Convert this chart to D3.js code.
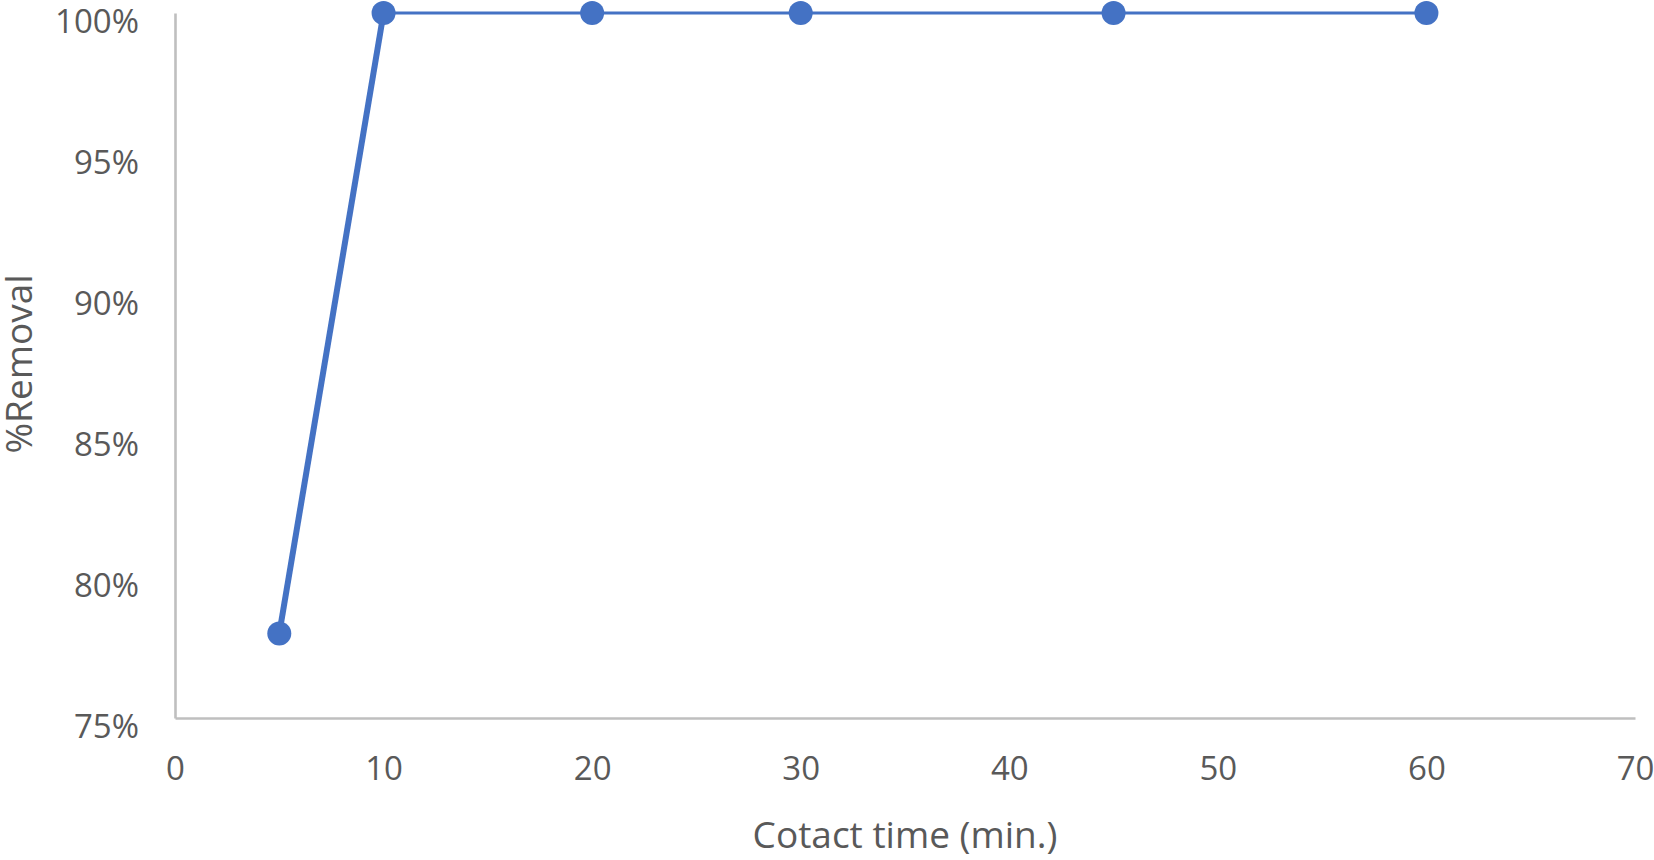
<!DOCTYPE html>
<html><head><meta charset="utf-8">
<script src="https://cdn.jsdelivr.net/npm/d3@7"></script>
<style>
html,body{margin:0;padding:0;background:#fff;}
svg text{font-family:"Open Sans",sans-serif;fill:#595959;}
</style></head>
<body><svg id="chart" width="1654" height="860"></svg>
<script>
const times = [5, 10, 20, 30, 45, 60];
const removal = [0.78, 1.0, 1.0, 1.0, 1.0, 1.0];
const xTicks = [0, 10, 20, 30, 40, 50, 60, 70];
const yTicks = [0.75, 0.80, 0.85, 0.90, 0.95, 1.00];
const xTitle = "Cotact time (min.)";
const yTitle = "%Removal";

const svg = d3.select("#chart");
const x = d3.scaleLinear().domain([0, 70]).range([175, 1635]);
const y = d3.scaleLinear().domain([0.75, 1.0]).range([718, 13]);

// axes
const xAxis = d3.axisBottom(x).tickValues(xTicks).tickSize(0).tickPadding(0).tickFormat(d3.format("d"));
const gx = svg.append("g").attr("transform", `translate(0,${y(0.75)})`).call(xAxis);
gx.select(".domain").attr("stroke", "#bfbfbf").attr("stroke-width", 2.6);
gx.selectAll("text").attr("font-size", 33).attr("dy", null).attr("y", 62).attr("fill", "#595959");

const yAxis = d3.axisLeft(y).tickValues(yTicks).tickSize(0).tickPadding(0).tickFormat(d3.format(".0%"));
const gy = svg.append("g").attr("transform", `translate(${x(0)},0)`).call(yAxis);
gy.select(".domain").attr("stroke", "#bfbfbf").attr("stroke-width", 2.6);
gy.selectAll("text").attr("font-size", 33).attr("x", -36).attr("dy", null).attr("y", 19).attr("fill", "#595959");

// line
const pts = times.map((t, i) => [t, removal[i]]);
const line = d3.line().x(d => x(d[0])).y(d => y(d[1]));
svg.append("path").datum(pts).attr("d", line)
  .attr("fill", "none").attr("stroke", "#4472c4").attr("stroke-width", 3.2);
svg.append("path").datum(pts.slice(0, 2)).attr("d", line)
  .attr("fill", "none").attr("stroke", "#4472c4").attr("stroke-width", 6);

svg.selectAll("circle.pt").data(pts).enter().append("circle")
  .attr("class", "pt").attr("cx", d => x(d[0])).attr("cy", d => y(d[1]))
  .attr("r", 12).attr("fill", "#4472c4");

// titles
svg.append("text").attr("x", 905).attr("y", 848).attr("text-anchor", "middle")
  .attr("font-size", 37).text(xTitle);
svg.append("text").attr("transform", "translate(32,364) rotate(-90)").attr("text-anchor", "middle")
  .attr("font-size", 37).text(yTitle);
</script></body></html>
